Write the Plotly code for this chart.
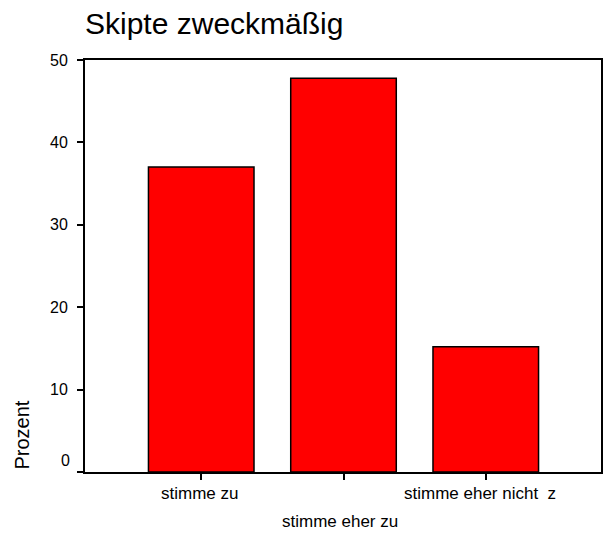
import plotly.graph_objects as go

categories = ["stimme zu", "stimme eher zu", "stimme eher nicht  z"]
values = [37.0, 47.8, 15.2]
y_ticks = [0, 10, 20, 30, 40, 50]
title_text = "Skipte zweckmäßig"
y_title = "Prozent"

FONT = "Arial, Liberation Sans, sans-serif"

fig = go.Figure()
fig.add_trace(go.Bar(
    x=categories, y=values,
    marker=dict(color="#FF0000", line=dict(color="black", width=1.5)),
    hoverinfo="x+y",
))

# category labels (middle one staggered lower, as in the original)
label_shift = [-10, -38, -10]
label_xshift = [-2, -4, -6]
annotations = []
for c, ys, xs in zip(categories, label_shift, label_xshift):
    annotations.append(dict(
        x=c, y=0, xref="x", yref="y", text=c, showarrow=False,
        yanchor="top", yshift=ys, xshift=xs,
        font=dict(family=FONT, size=17, color="black"),
    ))
# zero label sits just above the axis line
annotations.append(dict(
    x=0, y=0, xref="paper", yref="y", text=str(y_ticks[0]), showarrow=False,
    xanchor="right", yanchor="bottom", xshift=-13, yshift=1,
    font=dict(family=FONT, size=16, color="black"),
))
# y axis title, bottom-aligned to the axis
annotations.append(dict(
    x=0, y=0, xref="paper", yref="y", text=y_title, showarrow=False,
    textangle=-90, xanchor="center", yanchor="bottom", xshift=-64,
    font=dict(family=FONT, size=20, color="black"),
))

fig.update_layout(
    width=605, height=533,
    margin=dict(l=85, r=2, t=60, b=61),
    paper_bgcolor="white", plot_bgcolor="white",
    showlegend=False,
    bargap=0.258,
    title=dict(text=title_text, x=0, xref="paper", xanchor="left",
               y=1 - 23 / 533, yref="container", yanchor="middle",
               font=dict(family=FONT, size=30, color="black")),
    font=dict(family=FONT, color="black"),
    annotations=annotations,
)
fig.update_xaxes(
    type="category", range=[-0.817, 2.81],
    showline=True, linecolor="black", linewidth=2, mirror=True,
    ticks="outside", ticklen=6, tickwidth=1.5, tickcolor="black",
    showticklabels=False, showgrid=False, zeroline=False,
)
fig.update_yaxes(
    range=[0, 50], tickvals=y_ticks,
    ticktext=[""] + [str(v) for v in y_ticks[1:]],
    showline=True, linecolor="black", linewidth=2, mirror=True,
    ticks="outside", ticklen=6, tickwidth=1.5, tickcolor="black",
    ticklabelstandoff=6,
    tickfont=dict(family=FONT, size=16, color="black"),
    showgrid=False, zeroline=False,
)

fig.write_html(
    "out.html",
    config={"displayModeBar": False},
    post_script="document.body.style.margin='0';document.body.style.overflow='hidden';",
)
